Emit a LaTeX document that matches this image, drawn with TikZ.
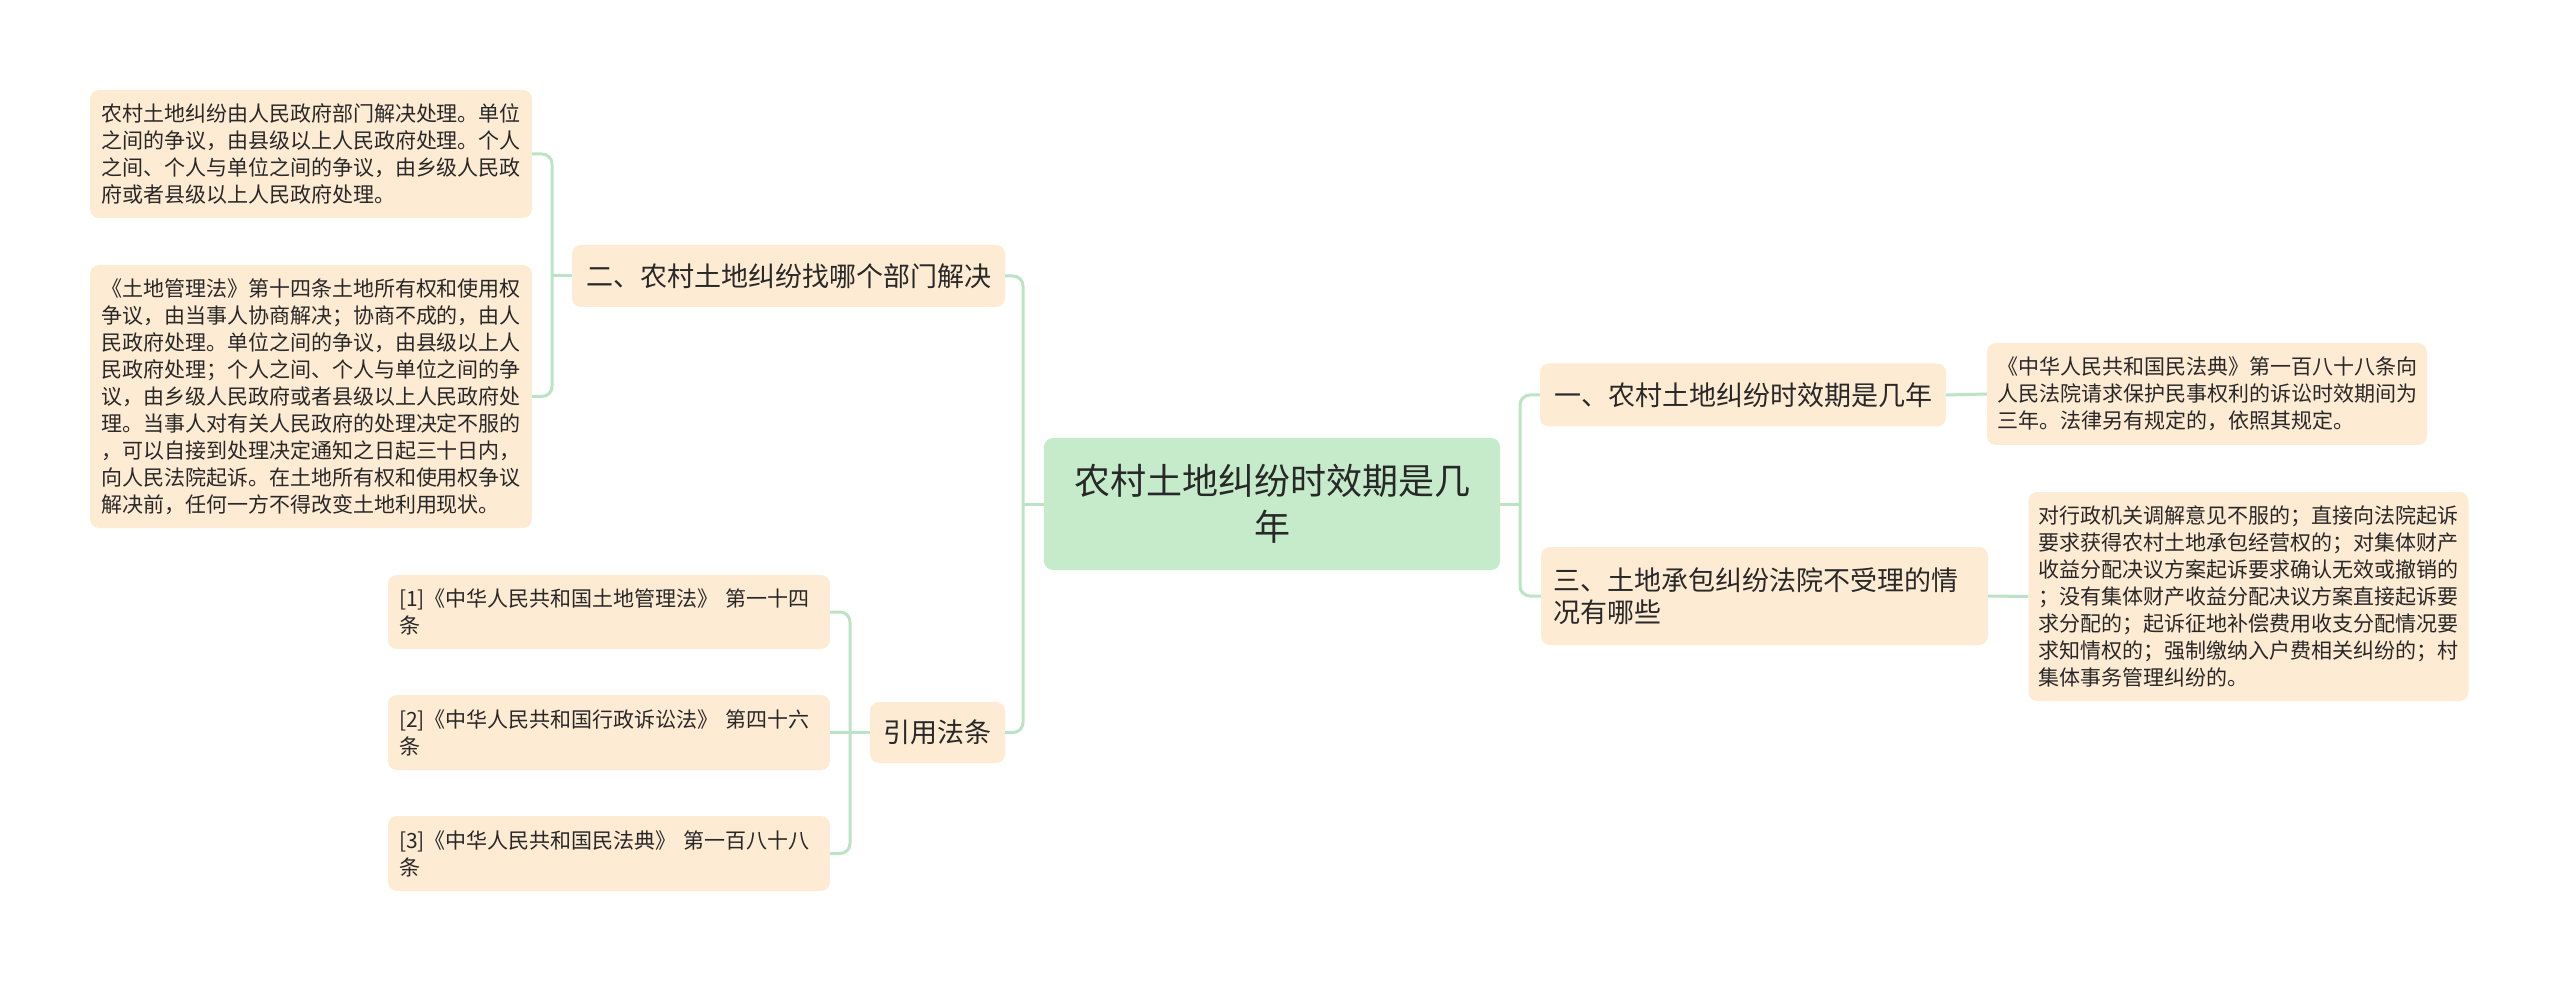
\documentclass[tikz,border=0pt]{standalone}
\usepackage{fontspec}
\setmainfont{Noto Sans CJK SC}
\usepackage{xcolor}
\definecolor{peach}{RGB}{254,235,212}
\definecolor{mint}{RGB}{198,235,203}
\definecolor{sprout}{RGB}{187,228,196}
\definecolor{ink}{RGB}{40,40,40}
\usepackage{tikz}
\usetikzlibrary{calc}
\tikzset{
  box/.style={rounded corners=9pt, text=ink, inner ysep=0pt},
  rootbox/.style={box, fill=mint, minimum width=456pt, minimum height=132pt,
                  text width=420pt, align=center,
                  font=\fontsize{36}{46}\selectfont},
  topic/.style={box, fill=peach, minimum height=62pt, inner xsep=8pt,
                font=\fontsize{27}{32}\selectfont},
  leaf/.style={box, fill=peach, inner xsep=11pt, text width=420pt,
               align=left, font=\fontsize{21}{27}\selectfont},
  link/.style={draw=sprout, line width=3pt},
  elbow/.style={link, rounded corners=10pt},
}

\begin{document}
\begin{tikzpicture}[x=1pt,y=-1pt]
\fill[white] (0,0) rectangle (2560,981);
\useasboundingbox (0,0) rectangle (2560,981);

% centre and main branches
\node[rootbox] (root) at (1272,504) {农村土地纠纷时效期是几\\年};
\node[topic, minimum width=433pt] (dept) at (788.5,276) {二、农村土地纠纷找哪个部门解决};
\node[topic, minimum width=135pt, minimum height=61pt] (cite) at (937.5,732.5) {引用法条};
\node[topic, minimum width=406pt, minimum height=63pt] (term) at (1743,395) {一、农村土地纠纷时效期是几年};
\node[topic, minimum width=447pt, minimum height=98pt, text width=423pt,
      inner xsep=12pt, align=left] (court) at (1764.5,596)
      {三、土地承包纠纷法院不受理的情\\况有哪些};

% leaves
\node[leaf, minimum height=128pt] (deptA) at (311,154) {%
  农村土地纠纷由人民政府部门解决处理。单位\\
  之间的争议，由县级以上人民政府处理。个人\\
  之间、个人与单位之间的争议，由乡级人民政\\
  府或者县级以上人民政府处理。};
\node[leaf, minimum height=263pt] (deptB) at (311,396.5) {%
  《土地管理法》第十四条土地所有权和使用权\\
  争议，由当事人协商解决；协商不成的，由人\\
  民政府处理。单位之间的争议，由县级以上人\\
  民政府处理；个人之间、个人与单位之间的争\\
  议，由乡级人民政府或者县级以上人民政府处\\
  理。当事人对有关人民政府的处理决定不服的\\
  ，可以自接到处理决定通知之日起三十日内，\\
  向人民法院起诉。在土地所有权和使用权争议\\
  解决前，任何一方不得改变土地利用现状。};
\node[leaf, minimum height=74pt] (law1) at (609,612)
  {[1]《中华人民共和国土地管理法》~第一十四\\条};
\node[leaf, minimum height=75pt] (law2) at (609,732.5)
  {[2]《中华人民共和国行政诉讼法》~第四十六\\条};
\node[leaf, minimum height=75pt] (law3) at (609,853.5)
  {[3]《中华人民共和国民法典》~第一百八十八\\条};
\node[leaf, minimum height=102pt, inner xsep=10pt] (termA) at (2207,394) {%
  《中华人民共和国民法典》第一百八十八条向\\
  人民法院请求保护民事权利的诉讼时效期间为\\
  三年。法律另有规定的，依照其规定。};
\node[leaf, minimum height=209pt, inner xsep=10pt] (courtA) at (2248.5,596.5) {%
  对行政机关调解意见不服的；直接向法院起诉\\
  要求获得农村土地承包经营权的；对集体财产\\
  收益分配决议方案起诉要求确认无效或撤销的\\
  ；没有集体财产收益分配决议方案直接起诉要\\
  求分配的；起诉征地补偿费用收支分配情况要\\
  求知情权的；强制缴纳入户费相关纠纷的；村\\
  集体事务管理纠纷的。};

% junctions
\coordinate (jl) at (1023,504);
\coordinate (jd) at (552,276);
\coordinate (jc) at (850,732.5);
\coordinate (jr) at (1520,504);

% connectors
\draw[link] (root.west) -- (jl);
\draw[elbow] (jl) |- (dept.east);
\draw[elbow] (jl) |- (cite.east);
\draw[link] (dept.west) -- (jd);
\draw[elbow] (jd) |- (deptA.east);
\draw[elbow] (jd) |- (deptB.east);
\draw[link] (cite.west) -- (jc);
\draw[elbow] (jc) |- (law1.east);
\draw[link] (jc) -- (law2.east);
\draw[elbow] (jc) |- (law3.east);
\draw[link] (root.east) -- (jr);
\draw[elbow] (jr) |- (term.west);
\draw[elbow] (jr) |- (court.west);
\draw[link] (term.east) -- (termA.west);
\draw[link] (court.east) -- (courtA.west);
\end{tikzpicture}
\end{document}
